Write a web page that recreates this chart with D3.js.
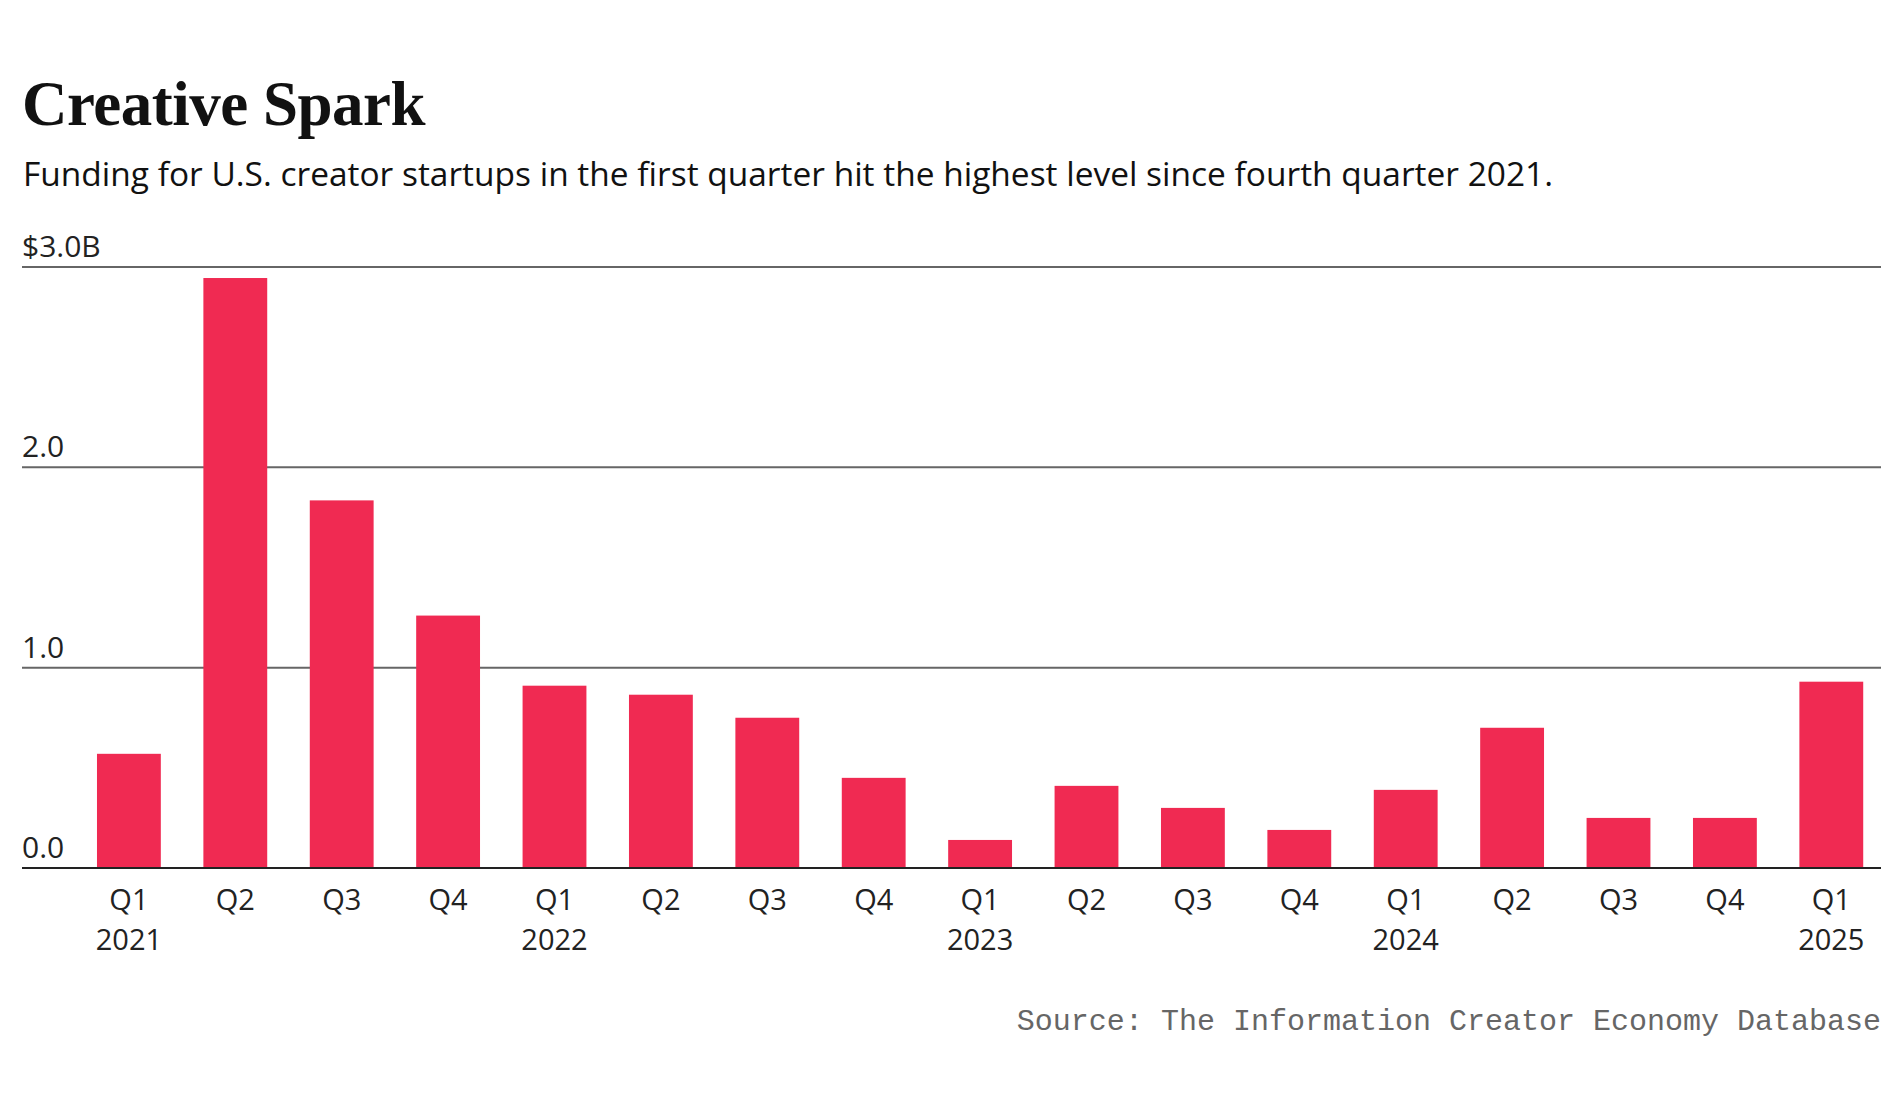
<!DOCTYPE html>
<html>
<head>
<meta charset="utf-8">
<script src="https://cdn.jsdelivr.net/npm/d3@7"></script>
<style>
  body { margin: 0; background: #fff; }
</style>
</head>
<body>
<svg id="chart"></svg>
<script>
// Data (billions of USD)
const quarters = ['Q1', 'Q2', 'Q3', 'Q4', 'Q1', 'Q2', 'Q3', 'Q4', 'Q1', 'Q2', 'Q3', 'Q4', 'Q1', 'Q2', 'Q3', 'Q4', 'Q1'];
const years = ['2021', '', '', '', '2022', '', '', '', '2023', '', '', '', '2024', '', '', '', '2025'];
const funding = [0.57, 2.945, 1.835, 1.26, 0.91, 0.865, 0.75, 0.45, 0.14, 0.41, 0.30, 0.19, 0.39, 0.70, 0.25, 0.25, 0.93];
const yTicks = [0, 1, 2, 3];
const yTickLabels = ['0.0', '1.0', '2.0', '$3.0B'];

const width = 1904;
const height = 1112;
const left = 22;
const right = 1881;

const svg = d3.select('#chart')
  .attr('width', width)
  .attr('height', height);

svg.append('rect')
  .attr('width', width)
  .attr('height', height)
  .attr('fill', '#fff');

// Title + subtitle
svg.append('text')
  .attr('x', 22)
  .attr('y', 125)
  .attr('font-family', '"Liberation Serif", "DejaVu Serif", serif')
  .attr('font-weight', 'bold')
  .attr('font-size', '63px')
  .attr('letter-spacing', '-0.5')
  .attr('fill', '#111')
  .text('Creative Spark');

svg.append('text')
  .attr('x', 23)
  .attr('y', 186)
  .attr('font-family', '"Open Sans", "Noto Sans", sans-serif')
  .attr('font-size', '32px')
  .attr('fill', '#111')
  .attr('textLength', 1530)
  .attr('lengthAdjust', 'spacingAndGlyphs')
  .text('Funding for U.S. creator startups in the first quarter hit the highest level since fourth quarter 2021.');

// Scales
const x = d3.scaleBand()
  .domain(d3.range(quarters.length))
  .range([75.7, 1884.5])
  .paddingInner(0.4)
  .paddingOuter(0.2);

const y = d3.scaleLinear()
  .domain([0, 3])
  .range([868, 267]);

const cx = i => x(i) + x.bandwidth() / 2;

// Gridlines with labels above them
const grid = svg.append('g');
grid.selectAll('line')
  .data(yTicks.filter(d => d > 0))
  .enter()
  .append('line')
  .attr('x1', left)
  .attr('x2', right)
  .attr('y1', d => y(d))
  .attr('y2', d => y(d))
  .attr('stroke', '#666')
  .attr('stroke-width', 2);

grid.selectAll('text')
  .data(yTicks)
  .enter()
  .append('text')
  .attr('x', left)
  .attr('y', d => y(d) - 10)
  .attr('font-family', '"Open Sans", "Noto Sans", sans-serif')
  .attr('font-size', '30px')
  .attr('fill', '#222')
  .text((d, i) => yTickLabels[i]);

// Bars
svg.append('g')
  .selectAll('rect')
  .data(funding)
  .enter()
  .append('rect')
  .attr('x', (d, i) => x(i))
  .attr('y', d => y(d))
  .attr('width', x.bandwidth())
  .attr('height', d => y(0) - y(d))
  .attr('fill', '#f02a52');

// Baseline
svg.append('line')
  .attr('x1', left)
  .attr('x2', right)
  .attr('y1', y(0))
  .attr('y2', y(0))
  .attr('stroke', '#222')
  .attr('stroke-width', 2);

// X axis labels (quarter, year below)
const xLabels = svg.append('g')
  .attr('font-family', '"Open Sans", "Noto Sans", sans-serif')
  .attr('font-size', '29px')
  .attr('fill', '#222')
  .attr('text-anchor', 'middle');

xLabels.selectAll('text.q')
  .data(quarters)
  .enter()
  .append('text')
  .attr('class', 'q')
  .attr('x', (d, i) => cx(i))
  .attr('y', 910)
  .text(d => d);

xLabels.selectAll('text.yr')
  .data(years.map((yr, i) => ({ yr, i })).filter(d => d.yr))
  .enter()
  .append('text')
  .attr('class', 'yr')
  .attr('x', d => cx(d.i))
  .attr('y', 950)
  .text(d => d.yr);

// Source
svg.append('text')
  .attr('x', right)
  .attr('y', 1030)
  .attr('text-anchor', 'end')
  .attr('font-family', '"Liberation Mono", "DejaVu Sans Mono", monospace')
  .attr('font-size', '30px')
  .attr('fill', '#666')
  .text('Source: The Information Creator Economy Database');
</script>
</body>
</html>
